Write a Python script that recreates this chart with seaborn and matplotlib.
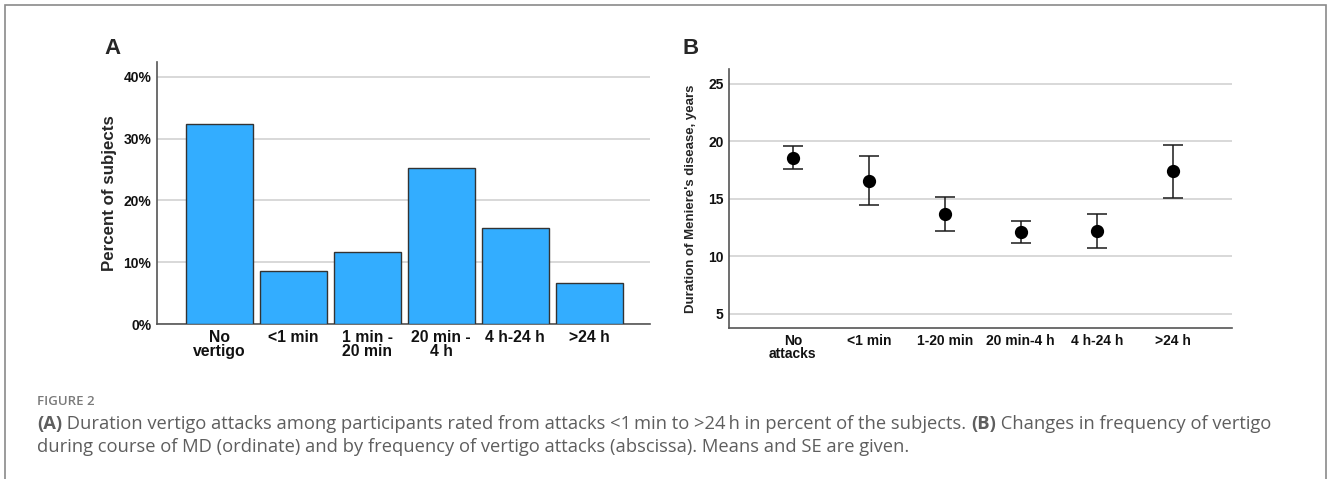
import matplotlib
matplotlib.use("Agg")
import matplotlib.pyplot as plt
import seaborn as sns
import numpy as np
import pandas as pd
from matplotlib.patches import Rectangle
from matplotlib.ticker import FuncFormatter

# Panel A: share of subjects by duration of vertigo attacks (%)
duration_cats = ["No\nvertigo", "<1 min", "1 min -\n20 min", "20 min -\n4 h", "4 h-24 h", ">24 h"]
percent_subjects = [32.3, 8.6, 11.7, 25.2, 15.6, 6.6]

# Panel B: duration of Meniere's disease (years), mean with SE bounds
attack_cats = ["No\nattacks", "<1 min", "1-20 min", "20 min-4 h", "4 h-24 h", ">24 h"]
mean_years = [18.6, 16.6, 13.7, 12.15, 12.2, 17.4]
lower_years = [17.6, 14.45, 12.25, 11.2, 10.75, 15.1]
upper_years = [19.6, 18.7, 15.15, 13.1, 13.7, 19.7]

sns.set_theme(style="white")
plt.rcParams["font.family"] = ["Liberation Sans", "DejaVu Sans"]

W, H = 1328, 479
fig = plt.figure(figsize=(W / 100, H / 100), dpi=100)

def px_axes(left, top, right, bottom):
    return fig.add_axes([left / W, 1 - bottom / H, (right - left) / W, (bottom - top) / H])

grid_col = "#d2d2d2"
spine_col = "#555555"

# ---- Panel A: bar chart ----
axA = px_axes(157, 62, 650, 324)
dfA = pd.DataFrame({"cat": duration_cats, "pct": percent_subjects})
sns.barplot(data=dfA, x="cat", y="pct", ax=axA, color="#33adff", saturation=1,
            width=0.905, edgecolor="#333333", linewidth=1.0, zorder=3)
axA.set_xlim(-0.84, 5.82)
axA.set_ylim(0, 42.4)
axA.set_yticks([0, 10, 20, 30, 40])
axA.yaxis.set_major_formatter(FuncFormatter(lambda v, p: f"{int(v)}%"))
axA.yaxis.grid(True, color=grid_col, linewidth=1.2, zorder=0)
axA.set_axisbelow(True)
axA.set_xlabel("")
axA.set_ylabel("Percent of subjects", fontsize=12.2, fontweight="bold", labelpad=5)

# ---- Panel B: means with SE error bars ----
axB = px_axes(729, 69, 1232, 328)
dfB = pd.DataFrame({"cat": attack_cats, "mean": mean_years,
                    "lo": lower_years, "hi": upper_years})
xpos = np.arange(len(attack_cats))
axB.errorbar(xpos, dfB["mean"],
             yerr=[dfB["mean"] - dfB["lo"], dfB["hi"] - dfB["mean"]],
             fmt="none", ecolor="#1a1a1a", elinewidth=1.1, capsize=7, capthick=1.1, zorder=3)
sns.pointplot(data=dfB, x="cat", y="mean", ax=axB, linestyle="none", color="black",
              markers="o", markersize=7.5, zorder=4)
axB.set_xlim(-0.84, 5.78)
axB.set_ylim(3.78, 26.3)
axB.set_yticks([5, 10, 15, 20, 25])
axB.yaxis.grid(True, color=grid_col, linewidth=1.2, zorder=0)
axB.set_axisbelow(True)
axB.set_xlabel("")
axB.set_ylabel("Duration of Meniere's disease, years", fontsize=9.5, fontweight="bold", labelpad=8)

for ax, xsize in ((axA, 11.3), (axB, 10)):
    for s in ("top", "right"):
        ax.spines[s].set_visible(False)
    for s in ("left", "bottom"):
        ax.spines[s].set_color(spine_col)
        ax.spines[s].set_linewidth(1.2)
    ax.tick_params(axis="both", length=0, labelsize=10, pad=4, colors="#111111")
    ax.tick_params(axis="x", labelsize=xsize)
    for lab in ax.get_xticklabels() + ax.get_yticklabels():
        lab.set_fontweight("bold")
    for lab in ax.get_xticklabels():
        lab.set_linespacing(0.95)
        lab.set_verticalalignment("top")

fig.text(104 / W, 1 - 48 / H, "A", fontsize=16, fontweight="bold", va="center", ha="left")
fig.text(683 / W, 1 - 48 / H, "B", fontsize=16, fontweight="bold", va="center", ha="left")

# ---- Caption ----
cap_font = ["Open Sans", "DejaVu Sans"]
cap_col = "#5e5e5e"
cap_size = 13.2
fig.text(37 / W, 1 - 405 / H, "FIGURE 2", fontsize=9.5, color="#7a7a7a",
         family=cap_font, va="baseline", ha="left", fontweight="semibold")

line1 = [("(A)", "bold"),
         (" Duration vertigo attacks among participants rated from attacks <1\u2009min to >24\u2009h in percent of the subjects. ", "normal"),
         ("(B)", "bold"),
         (" Changes in frequency of vertigo", "normal")]
line2 = [("during course of MD (ordinate) and by frequency of vertigo attacks (abscissa). Means and SE are given.", "normal")]

renderer = fig.canvas.get_renderer()
for segs, base in ((line1, 429), (line2, 452)):
    x = 37 / W
    for txt, wt in segs:
        t = fig.text(x, 1 - base / H, txt, fontsize=cap_size, color=cap_col,
                     family=cap_font, fontweight=wt, va="baseline", ha="left")
        bb = t.get_window_extent(renderer=renderer)
        x = bb.x1 / W

# Outer frame
fig.add_artist(Rectangle((4.5 / W, -0.05), (1326 - 4.5) / W, 1 - 5 / H + 0.05,
                         transform=fig.transFigure, fill=False,
                         edgecolor="#8a8a8a", linewidth=1.2))

fig.savefig("out.png", dpi=100)
